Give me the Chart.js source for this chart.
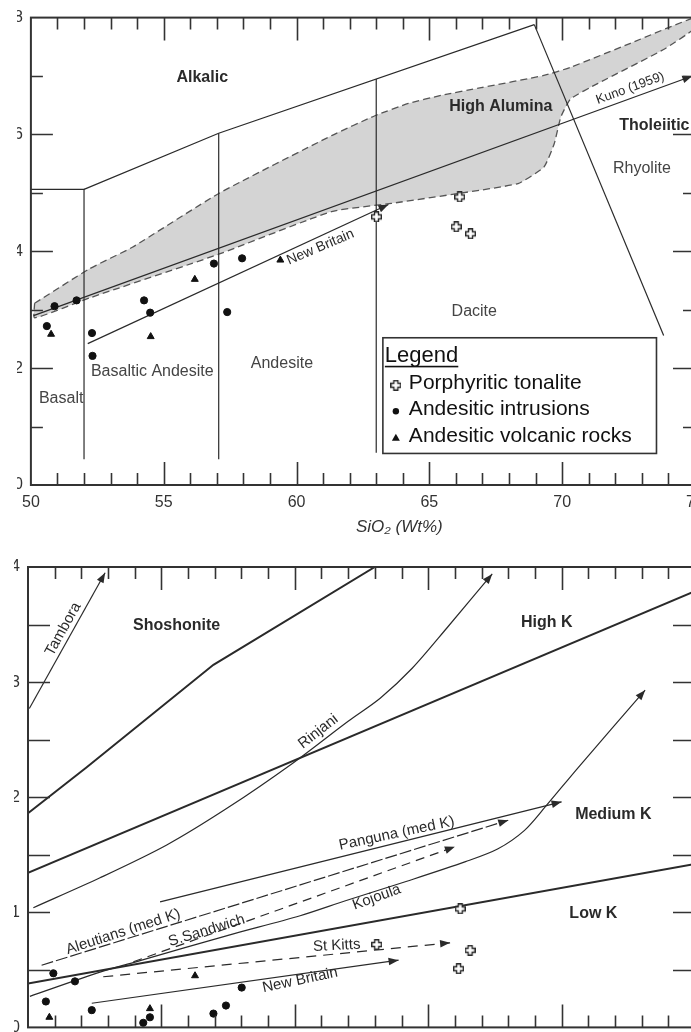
<!DOCTYPE html>
<html>
<head>
<meta charset="utf-8">
<script src="https://cdn.jsdelivr.net/npm/chart.js@4.4.1/dist/chart.umd.min.js"></script>
<style>
  html, body { margin: 0; padding: 0; background: #fff; overflow: hidden; width: 691px; height: 1032px; }
  #wrap { position: relative; width: 691px; height: 1032px; overflow: hidden; }
  #topChart { position: absolute; left: 14px; top: 0; }
  #botChart { position: absolute; left: 14px; top: 545px; }
</style>
</head>
<body>
<div id="wrap">
  <canvas id="topChart" width="700" height="545"></canvas>
  <canvas id="botChart" width="700" height="500"></canvas>
</div>
<script>
// fonts and ink
const FONT = '"Liberation Sans", Arial, Helvetica, sans-serif';
const INK = '#2a2a2a';

// axis tick labels
const xTickLabels = [50, 55, 60, 65, 70, 75];
const topYTickLabels = [0, 2, 4, 6, 8];
const botYTickLabels = [0, 1, 2, 3, 4];

// ---------- top diagram: samples ----------
const topTonaliteX = [63.01, 66.14, 66.01, 66.55];
const topTonaliteY = [4.59, 4.93, 4.42, 4.30];
const topIntrusionX = [50.89, 51.72, 50.6, 52.3, 52.32, 54.26, 54.49, 56.89, 57.95, 57.39];
const topIntrusionY = [3.06, 3.16, 2.72, 2.60, 2.21, 3.16, 2.95, 3.79, 3.88, 2.96];
const topVolcanicX = [50.76, 54.51, 56.17, 59.39];
const topVolcanicY = [2.58, 2.54, 3.52, 3.85];

// ---------- top diagram: field boundaries ----------
const basaltBoxX = [50, 52, 52];
const basaltBoxY = [5.06, 5.06, 0.44];
const alkalicX = [52, 57.07, 68.95];
const alkalicY = [5.06, 6.02, 7.88];
const rhyoliteX = [68.95, 73.82];
const rhyoliteY = [7.88, 2.56];
const andesiteDivX = [57.07, 57.07];
const andesiteDivY = [6.02, 0.44];
const daciteDivX = [63, 63];
const daciteDivY = [6.95, 0.55];
const kunoX = [50.1, 74.9];
const kunoY = [2.9, 7.0];
const nbTopX = [52.14, 63.46];
const nbTopY = [2.42, 4.80];
// high alumina field outline (upper edge then lower edge back)
const aluminaX = [50.14, 52.2, 53.82, 57.07, 61.32, 62.95, 64.21, 65.45, 66.95, 69.31, 70.32, 72.57, 75,
                  75, 73.8, 71.33, 70.32, 69.95, 69.7, 69.31, 68.34, 66.09, 63.57, 61.32, 57.07, 52.2, 50.14, 50.14];
const aluminaY = [3.11, 3.70, 4.07, 4.99, 5.98, 6.32, 6.53, 6.67, 6.80, 7.01, 7.15, 7.56, 8.0,
                  7.82, 7.45, 6.87, 6.61, 6.30, 5.84, 5.44, 5.16, 4.99, 4.82, 4.68, 3.95, 3.20, 2.86, 3.11];

// ---------- bottom diagram: samples ----------
const botTonaliteX = [66.2, 63.07, 66.57, 66.14];
const botTonaliteY = [1.03, 0.72, 0.67, 0.51];
const botIntrusionX = [50.95, 51.76, 50.67, 52.39, 54.57, 54.32, 56.95, 57.42, 58.01];
const botIntrusionY = [0.47, 0.40, 0.225, 0.15, 0.088, 0.04, 0.12, 0.19, 0.346];
const botVolcanicX = [50.8, 54.57, 56.26];
const botVolcanicY = [0.088, 0.163, 0.449];

// ---------- bottom diagram: boundaries and trends ----------
const shoshX = [50, 52.2, 56.95, 63];
const shoshY = [1.86, 2.26, 3.15, 4.0];
const highKX = [50, 75];
const highKY = [1.343, 3.79];
const medLowX = [50, 75];
const medLowY = [0.381, 1.42];
const tamboraX = [50.05, 52.89];
const tamboraY = [2.77, 3.95];
const rinjaniX = [50.2, 52.7, 55.2, 57.5, 59.95, 62.0, 63.2, 64.4, 65.7, 67.4];
const rinjaniY = [1.04, 1.30, 1.585, 1.91, 2.30, 2.66, 2.86, 3.12, 3.47, 3.94];
const pangunaX = [54.95, 70.0];
const pangunaY = [1.09, 1.96];
const aleutiansX = [50.51, 68.0];
const aleutiansY = [0.54, 1.80];
const sandwichX = [53.95, 66.0];
const sandwichY = [0.57, 1.57];
const kojoulaX = [50.07, 52.7, 54.2, 57.5, 60.2, 61.9, 64.2, 66.4, 67.6, 68.6, 69.4, 70.63, 73.13];
const kojoulaY = [0.27, 0.48, 0.58, 0.80, 0.97, 1.10, 1.27, 1.44, 1.55, 1.71, 1.92, 2.26, 2.93];
const kittsX = [52.82, 65.82];
const kittsY = [0.44, 0.735];
const nbBotX = [52.39, 63.89];
const nbBotY = [0.21, 0.584];

// outlined cross used for the tonalite samples
function makeCross(s) {
  const c = document.createElement('canvas');
  c.width = s; c.height = s;
  const g = c.getContext('2d');
  const w = 4, a = (s - w) / 2, e = 0.7;
  g.beginPath();
  g.moveTo(a, e); g.lineTo(a + w, e); g.lineTo(a + w, a); g.lineTo(s - e, a);
  g.lineTo(s - e, a + w); g.lineTo(a + w, a + w); g.lineTo(a + w, s - e); g.lineTo(a, s - e);
  g.lineTo(a, a + w); g.lineTo(e, a + w); g.lineTo(e, a); g.lineTo(a, a);
  g.closePath();
  g.fillStyle = '#fff'; g.fill();
  g.strokeStyle = INK; g.lineWidth = 1.4; g.stroke();
  return c;
}
const crossMark = makeCross(11);

function pts(xs, ys) {
  return xs.map((x, i) => ({ x: x, y: ys[i] }));
}

function line(xs, ys, extra) {
  return Object.assign({
    type: 'line',
    data: pts(xs, ys),
    borderColor: INK,
    borderWidth: 1.2,
    pointRadius: 0,
    fill: false,
    tension: 0,
    order: 1
  }, extra || {});
}

function marks(xs, ys, style, r) {
  return {
    type: 'scatter',
    data: pts(xs, ys),
    pointStyle: style,
    pointRadius: r,
    backgroundColor: '#111',
    borderColor: '#111',
    borderWidth: 1,
    order: 0
  };
}

// text placed in the diagrams (data units)
const topText = [
  { t: 'Alkalic', x: 56.45, y: 6.97, f: 'bold 16px ' + FONT },
  { t: 'High Alumina', x: 67.69, y: 6.48, f: 'bold 16px ' + FONT },
  { t: 'Tholeiitic', x: 72.15, y: 6.15, f: 'bold 16px ' + FONT, al: 'left' },
  { t: 'Rhyolite', x: 73.0, y: 5.41, f: '16px ' + FONT, c: '#444' },
  { t: 'Dacite', x: 66.69, y: 2.96, f: '16px ' + FONT, c: '#444' },
  { t: 'Andesite', x: 59.45, y: 2.08, f: '16px ' + FONT, c: '#444' },
  { t: 'Basaltic Andesite', x: 54.57, y: 1.94, f: '16px ' + FONT, c: '#444' },
  { t: 'Basalt', x: 51.14, y: 1.48, f: '16px ' + FONT, c: '#444' },
  { t: 'Kuno (1959)', x: 72.56, y: 6.79, a: -20, f: '13px ' + FONT },
  { t: 'New Britain', x: 60.9, y: 4.07, a: -23, f: '14px ' + FONT }
];
const botText = [
  { t: 'Shoshonite', x: 55.57, y: 3.49, f: 'bold 16px ' + FONT },
  { t: 'High K', x: 69.44, y: 3.52, f: 'bold 16px ' + FONT },
  { t: 'Medium K', x: 71.94, y: 1.85, f: 'bold 16px ' + FONT },
  { t: 'Low K', x: 71.19, y: 0.99, f: 'bold 16px ' + FONT },
  { t: 'Tambora', x: 51.32, y: 3.46, a: -61, f: '15px ' + FONT },
  { t: 'Rinjani', x: 60.88, y: 2.57, a: -38, f: '15px ' + FONT },
  { t: 'Panguna (med K)', x: 63.82, y: 1.685, a: -12, f: '15px ' + FONT },
  { t: 'Aleutians (med K)', x: 53.57, y: 0.83, a: -18, f: '15px ' + FONT },
  { t: 'S.Sandwich', x: 56.7, y: 0.84, a: -17, f: '15px ' + FONT },
  { t: 'Kojoula', x: 63.07, y: 1.13, a: -20, f: '15px ' + FONT },
  { t: 'St Kitts', x: 61.57, y: 0.71, a: -3, f: '15px ' + FONT },
  { t: 'New Britain', x: 60.2, y: 0.41, a: -12, f: '15px ' + FONT }
];

// frame, inward ticks, arrow heads and the text
function decorPlugin(opts) {
  return {
    id: 'decor',
    afterDatasetsDraw(chart) {
      const ctx = chart.ctx;
      const xs = chart.scales.x, ys = chart.scales.y;
      // arrow heads on trend lines
      chart.data.datasets.forEach((ds, i) => {
        if (!ds.arrow) return;
        const el = chart.getDatasetMeta(i).data;
        const p = el[el.length - 1], q = el[el.length - 2];
        const ang = Math.atan2(p.y - q.y, p.x - q.x);
        ctx.save();
        ctx.translate(p.x, p.y);
        ctx.rotate(ang);
        ctx.fillStyle = INK;
        ctx.beginPath();
        ctx.moveTo(0, 0); ctx.lineTo(-10, -3.8); ctx.lineTo(-10, 3.8);
        ctx.closePath();
        ctx.fill();
        ctx.restore();
      });
      // labels
      opts.text.forEach(l => {
        ctx.save();
        ctx.translate(xs.getPixelForValue(l.x), ys.getPixelForValue(l.y));
        ctx.rotate((l.a || 0) * Math.PI / 180);
        ctx.font = l.f;
        ctx.fillStyle = l.c || INK;
        ctx.textAlign = l.al || 'center';
        ctx.textBaseline = 'middle';
        ctx.fillText(l.t, 0, 0);
        ctx.restore();
      });
    },
    afterDraw(chart) {
      const ctx = chart.ctx, a = chart.chartArea;
      const xs = chart.scales.x, ys = chart.scales.y;
      ctx.save();
      ctx.strokeStyle = '#333';
      ctx.lineWidth = 2;
      ctx.strokeRect(a.left, a.top, a.right - a.left, a.bottom - a.top);
      ctx.lineWidth = 1.6;
      ctx.beginPath();
      for (let v = 51; v < 75; v++) {
        const len = v % 5 === 0 ? 23 : 12;
        const px = Math.round(xs.getPixelForValue(v)) + 0.5;
        ctx.moveTo(px, a.bottom); ctx.lineTo(px, a.bottom - len);
        ctx.moveTo(px, a.top); ctx.lineTo(px, a.top + len);
      }
      opts.yTicks.forEach(t => {
        const py = Math.round(ys.getPixelForValue(t.v)) + 0.5;
        ctx.moveTo(a.left, py); ctx.lineTo(a.left + t.len, py);
        ctx.moveTo(a.right, py); ctx.lineTo(a.right - t.len, py);
      });
      ctx.stroke();
      ctx.restore();
      if (opts.xTitle) {
        // axis title sits right of centre in the original
        ctx.save();
        ctx.font = 'italic 17px ' + FONT;
        ctx.fillStyle = '#333';
        ctx.textAlign = 'center';
        ctx.textBaseline = 'middle';
        ctx.fillText(opts.xTitle, xs.getPixelForValue(63.87), a.bottom + 42);
        ctx.restore();
      }
      if (opts.legend) opts.legend(chart);
    }
  };
}

function drawLegend(chart) {
  const ctx = chart.ctx;
  const xs = chart.scales.x, ys = chart.scales.y;
  const l = xs.getPixelForValue(63.25), r = xs.getPixelForValue(73.55);
  const t = ys.getPixelForValue(2.52), b = ys.getPixelForValue(0.54);
  ctx.save();
  ctx.fillStyle = '#fff';
  ctx.fillRect(l, t, r - l, b - t);
  ctx.strokeStyle = '#333';
  ctx.lineWidth = 1.6;
  ctx.strokeRect(l, t, r - l, b - t);
  ctx.fillStyle = '#111';
  ctx.textBaseline = 'middle';
  ctx.textAlign = 'left';
  ctx.font = '22px ' + FONT;
  ctx.fillText('Legend', l + 2, t + 18);
  const w = ctx.measureText('Legend').width;
  ctx.fillRect(l + 2, t + 28, w, 1.6);
  ctx.font = '21px ' + FONT;
  const rows = ['Porphyritic tonalite', 'Andesitic intrusions', 'Andesitic volcanic rocks'];
  rows.forEach((txt, i) => {
    const cy = t + 45 + i * 26.5;
    const mx = l + 13;
    if (i === 0) {
      ctx.drawImage(crossMark, mx - 5.5, cy - 3, 11, 11);
    } else if (i === 1) {
      ctx.beginPath(); ctx.arc(mx, cy + 2, 3.2, 0, Math.PI * 2); ctx.fill();
    } else {
      ctx.beginPath(); ctx.moveTo(mx, cy - 2); ctx.lineTo(mx + 4, cy + 5); ctx.lineTo(mx - 4, cy + 5); ctx.closePath(); ctx.fill();
    }
    ctx.fillText(txt, l + 26, cy);
  });
  ctx.restore();
}

const tickFont = { family: FONT, size: 16 };

function setTicks(list) {
  return function (scale) {
    scale.ticks = list.map(v => ({ value: v }));
  };
}

// ---------- top chart ----------
const topYTicks = [];
for (let v = 1; v < 8; v++) topYTicks.push({ v: v, len: v % 2 === 0 ? 22 : 12 });

new Chart(document.getElementById('topChart'), {
  type: 'scatter',
  data: {
    datasets: [
      marks(topTonaliteX, topTonaliteY, crossMark, 5.5),
      marks(topIntrusionX, topIntrusionY, 'circle', 3.6),
      marks(topVolcanicX, topVolcanicY, 'triangle', 4),
      line(basaltBoxX, basaltBoxY),
      line(alkalicX, alkalicY),
      line(rhyoliteX, rhyoliteY),
      line(andesiteDivX, andesiteDivY),
      line(daciteDivX, daciteDivY),
      line(kunoX, kunoY, { arrow: true }),
      line(nbTopX, nbTopY, { arrow: true }),
      line(aluminaX, aluminaY, {
        borderColor: '#555', borderDash: [7, 4], borderWidth: 1.3,
        backgroundColor: '#d4d4d4', fill: 'shape', tension: 0.15, order: 5
      })
    ]
  },
  options: {
    responsive: false,
    animation: false,
    layout: { autoPadding: false, padding: { top: 17, right: 19, left: 0, bottom: 0 } },
    plugins: { legend: { display: false }, tooltip: { enabled: false } },
    scales: {
      x: {
        type: 'linear', min: 50, max: 75,
        grid: { display: false, drawTicks: false }, border: { display: false },
        ticks: { font: tickFont, color: '#333', padding: 8 },
        afterBuildTicks: setTicks(xTickLabels),
        afterFit: s => { s.height = 60; }
      },
      y: {
        type: 'linear', min: 0, max: 8,
        grid: { display: false, drawTicks: false }, border: { display: false },
        ticks: { font: tickFont, color: '#333', padding: 8 },
        afterBuildTicks: setTicks(topYTickLabels),
        afterFit: s => { s.width = 14; }
      }
    }
  },
  plugins: [decorPlugin({ text: topText, yTicks: topYTicks, legend: drawLegend, xTitle: 'SiO₂ (Wt%)' })]
});

// ---------- bottom chart ----------
const botYTicks = [];
for (let v = 0.5; v < 4; v += 0.5) botYTicks.push({ v: v, len: 22 });

new Chart(document.getElementById('botChart'), {
  type: 'scatter',
  data: {
    datasets: [
      marks(botTonaliteX, botTonaliteY, crossMark, 5.5),
      marks(botIntrusionX, botIntrusionY, 'circle', 3.6),
      marks(botVolcanicX, botVolcanicY, 'triangle', 4),
      line(shoshX, shoshY, { borderWidth: 2 }),
      line(highKX, highKY, { borderWidth: 2 }),
      line(medLowX, medLowY, { borderWidth: 2 }),
      line(tamboraX, tamboraY, { arrow: true }),
      line(rinjaniX, rinjaniY, { arrow: true, tension: 0.3 }),
      line(pangunaX, pangunaY, { arrow: true }),
      line(aleutiansX, aleutiansY, { arrow: true, borderDash: [12, 3] }),
      line(sandwichX, sandwichY, { arrow: true, borderDash: [9, 6] }),
      line(kojoulaX, kojoulaY, { arrow: true, tension: 0.3 }),
      line(kittsX, kittsY, { arrow: true, borderDash: [10, 7] }),
      line(nbBotX, nbBotY, { arrow: true })
    ]
  },
  options: {
    responsive: false,
    animation: false,
    layout: { autoPadding: false, padding: { top: 22, right: 19, left: 0, bottom: 12 } },
    plugins: { legend: { display: false }, tooltip: { enabled: false } },
    scales: {
      x: { type: 'linear', min: 50, max: 75, display: false },
      y: {
        type: 'linear', min: 0, max: 4,
        grid: { display: false, drawTicks: false }, border: { display: false },
        ticks: { font: tickFont, color: '#333', padding: 8 },
        afterBuildTicks: setTicks(botYTickLabels),
        afterFit: s => { s.width = 14; }
      }
    }
  },
  plugins: [decorPlugin({ text: botText, yTicks: botYTicks })]
});
</script>
</body>
</html>
